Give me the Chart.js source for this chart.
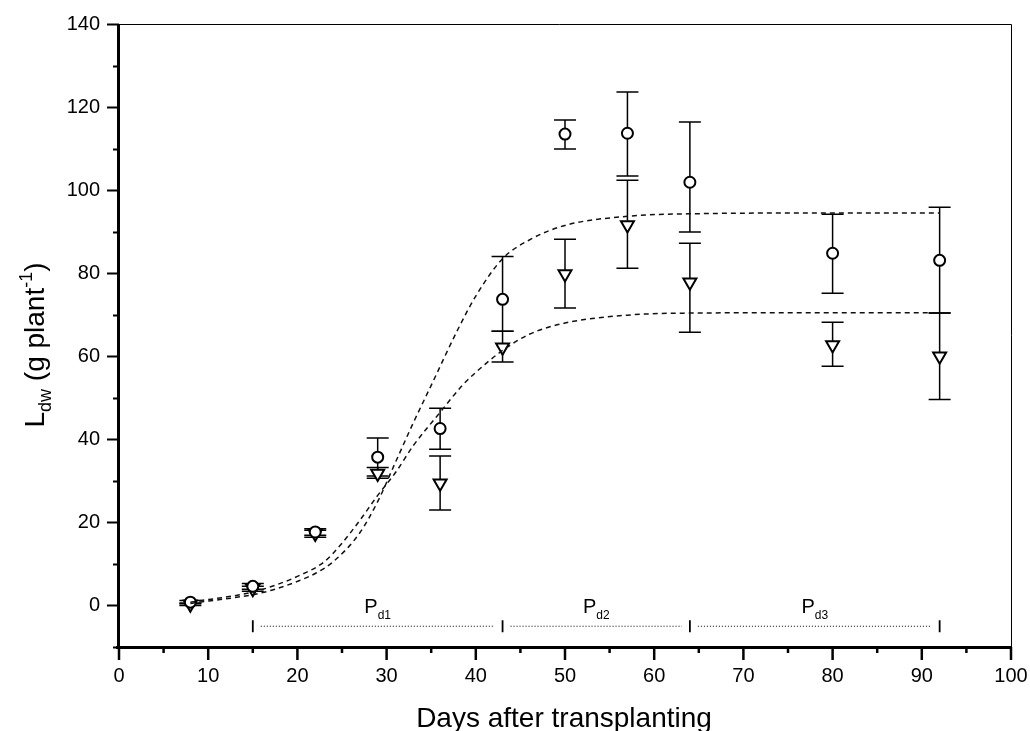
<!DOCTYPE html>
<html>
<head>
<meta charset="utf-8">
<script src="https://cdn.jsdelivr.net/npm/chart.js@4.4.1/dist/chart.umd.min.js"></script>
<style>
  html, body { margin: 0; padding: 0; background: #fff; }
  #wrap { width: 1030px; height: 731px; }
</style>
</head>
<body>
<div id="wrap"><canvas id="growth"></canvas></div>
<script>
// measured days
var days = [8, 15, 22, 29, 36, 43, 50, 57, 64, 80, 92];

// circles
var circleMean = [0.8, 4.6, 17.7, 35.7, 42.6, 73.7, 113.5, 113.7, 101.9, 84.8, 83.1];
var circleLow  = [0.4, 3.9, 16.9, 31.2, 37.6, 66.0, 109.9, 103.4, 89.9, 75.2, 70.4];
var circleHigh = [1.2, 5.3, 18.5, 40.3, 47.5, 84.0, 116.9, 123.6, 116.4, 94.2, 95.9];

// triangles
var triMean = [0.3, 4.0, 17.3, 31.8, 29.4, 62.2, 79.8, 91.6, 77.8, 62.7, 60.0];
var triLow  = [0.0, 3.4, 16.4, 30.6, 23.0, 58.6, 71.6, 81.2, 65.8, 57.6, 49.6];
var triHigh = [0.6, 4.6, 18.1, 33.2, 36.0, 66.0, 88.2, 102.4, 87.2, 68.2, 70.4];

// fitted curves
var fitUpperX = [8, 15, 17, 20, 22, 24, 27, 29, 31, 33, 35, 38, 40, 43, 46, 50, 57, 64, 80, 92];
var fitUpper  = [0.5, 2.6, 3.6, 5.8, 7.7, 10.5, 17.5, 25, 34.5, 44, 53, 66.5, 74.5, 83.5, 88, 91.5, 93.7, 94.3, 94.5, 94.5];
var fitLowerX = [8, 15, 17, 20, 23, 25, 27, 29, 31, 33, 36, 38.5, 41, 43, 46, 50, 57, 64, 80, 92];
var fitLower  = [0.8, 3.2, 4.5, 7, 10.5, 15, 20.5, 26.5, 32, 38.5, 46.5, 53, 58, 61.4, 65.3, 68, 69.9, 70.4, 70.5, 70.5];

// periods
var periodBounds = [15, 43, 64, 92];
var periodNames = ['d1', 'd2', 'd3'];
var periodLevel = -5;

var FONT = "'Liberation Sans', Arial, Helvetica, sans-serif";

function pts(xs, ys) {
  return xs.map(function(x, i) { return { x: x, y: ys[i] }; });
}

function noPad(s) {
  s.paddingLeft = 0; s.paddingRight = 0; s.paddingTop = 0; s.paddingBottom = 0;
}

var decor = {
  id: 'decor',
  beforeDatasetsDraw: function(chart) {
    var ctx = chart.ctx, xs = chart.scales.x, ys = chart.scales.y;
    ctx.save();
    ctx.strokeStyle = '#000';
    ctx.lineWidth = 1.5;
    function bars(lo, hi) {
      for (var i = 0; i < days.length; i++) {
        var px = xs.getPixelForValue(days[i]);
        var a = ys.getPixelForValue(lo[i]), b = ys.getPixelForValue(hi[i]);
        ctx.beginPath();
        ctx.moveTo(px, a); ctx.lineTo(px, b);
        ctx.moveTo(px - 11, a); ctx.lineTo(px + 11, a);
        ctx.moveTo(px - 11, b); ctx.lineTo(px + 11, b);
        ctx.stroke();
      }
    }
    bars(circleLow, circleHigh);
    bars(triLow, triHigh);

    // period dotted lines and brackets
    var py = ys.getPixelForValue(periodLevel);
    ctx.lineWidth = 1;
    ctx.setLineDash([1, 2]);
    for (var k = 0; k < periodBounds.length - 1; k++) {
      ctx.beginPath();
      ctx.moveTo(xs.getPixelForValue(periodBounds[k]) + 8, py);
      ctx.lineTo(xs.getPixelForValue(periodBounds[k + 1]) - 8, py);
      ctx.stroke();
    }
    ctx.setLineDash([]);
    ctx.lineWidth = 1.8;
    periodBounds.forEach(function(d) {
      var px = xs.getPixelForValue(d);
      ctx.beginPath();
      ctx.moveTo(px, py - 6); ctx.lineTo(px, py + 6);
      ctx.stroke();
    });

    // period labels
    ctx.fillStyle = '#000';
    ctx.textBaseline = 'alphabetic';
    ctx.textAlign = 'left';
    for (var j = 0; j < periodNames.length; j++) {
      var mid = xs.getPixelForValue((periodBounds[j] + periodBounds[j + 1]) / 2);
      ctx.font = '20px ' + FONT;
      var wP = ctx.measureText('P').width;
      ctx.font = '12px ' + FONT;
      var wS = ctx.measureText(periodNames[j]).width;
      var x0 = mid - (wP + wS) / 2;
      ctx.font = '20px ' + FONT;
      ctx.fillText('P', x0, py - 13);
      ctx.font = '12px ' + FONT;
      ctx.fillText(periodNames[j], x0 + wP, py - 7);
    }
    ctx.restore();
  },
  afterDraw: function(chart) {
    var ctx = chart.ctx, xs = chart.scales.x, ys = chart.scales.y, ca = chart.chartArea;
    ctx.save();
    ctx.strokeStyle = '#000';
    // thin top and right frame
    ctx.lineWidth = 1;
    ctx.beginPath();
    ctx.moveTo(ca.left - 12, ca.top + 0.5); ctx.lineTo(ca.right + 0.5, ca.top + 0.5);
    ctx.lineTo(ca.right + 0.5, ca.bottom);
    ctx.stroke();
    // thick left and bottom axes
    ctx.lineWidth = 3;
    ctx.beginPath();
    ctx.moveTo(ca.left - 0.5, ca.top); ctx.lineTo(ca.left - 0.5, ca.bottom + 1.5);
    ctx.moveTo(ca.left - 3, ca.bottom + 0.5); ctx.lineTo(ca.right + 1, ca.bottom + 0.5);
    ctx.stroke();
    // y ticks
    ctx.lineWidth = 2;
    ys.ticks.forEach(function(t) {
      var py = Math.round(ys.getPixelForValue(t.value)) + 0.5;
      var len = (t.value % 20 === 0 && t.value >= 0) ? 12 : 6;
      ctx.beginPath();
      ctx.moveTo(ca.left - len, py); ctx.lineTo(ca.left, py);
      ctx.stroke();
    });
    // x ticks
    ctx.lineWidth = 2.5;
    xs.ticks.forEach(function(t) {
      var px = xs.getPixelForValue(t.value);
      ctx.beginPath();
      if (t.value % 10 === 0) {
        ctx.moveTo(px, ca.bottom); ctx.lineTo(px, ca.bottom + 13);
      } else {
        ctx.moveTo(px, ca.bottom + 2); ctx.lineTo(px, ca.bottom + 6);
      }
      ctx.stroke();
    });

    // axis titles
    ctx.fillStyle = '#000';
    ctx.textBaseline = 'alphabetic';
    ctx.font = '28px ' + FONT;
    ctx.textAlign = 'center';
    ctx.fillText('Days after transplanting', 564, 727);

    var parts = [
      { t: 'L', size: 28, dy: 0 },
      { t: 'dw', size: 18, dy: 7 },
      { t: ' (g plant', size: 28, dy: 0 },
      { t: '-1', size: 18, dy: -12 },
      { t: ')', size: 28, dy: 0 }
    ];
    var total = 0;
    parts.forEach(function(p) { ctx.font = p.size + 'px ' + FONT; p.w = ctx.measureText(p.t).width; total += p.w; });
    ctx.translate(44, 345);
    ctx.rotate(-Math.PI / 2);
    ctx.textAlign = 'left';
    var x = -total / 2;
    parts.forEach(function(p) {
      ctx.font = p.size + 'px ' + FONT;
      ctx.fillText(p.t, x, p.dy);
      x += p.w;
    });
    ctx.restore();
  }
};

new Chart(document.getElementById('growth'), {
  type: 'scatter',
  data: {
    datasets: [
      {
        type: 'line',
        data: pts(fitUpperX, fitUpper),
        borderColor: '#111',
        borderWidth: 1.5,
        borderDash: [5, 4],
        pointRadius: 0,
        fill: false,
        cubicInterpolationMode: 'monotone'
      },
      {
        type: 'line',
        data: pts(fitLowerX, fitLower),
        borderColor: '#111',
        borderWidth: 1.5,
        borderDash: [5, 4],
        pointRadius: 0,
        fill: false,
        cubicInterpolationMode: 'monotone'
      },
      {
        data: pts(days, circleMean),
        pointStyle: 'circle',
        pointRadius: 5.5,
        borderWidth: 2,
        borderColor: '#000',
        backgroundColor: '#fff'
      },
      {
        data: pts(days, triMean),
        pointStyle: 'triangle',
        rotation: 180,
        pointRadius: 7.5,
        borderWidth: 2,
        borderColor: '#000',
        backgroundColor: '#fff'
      }
    ]
  },
  options: {
    responsive: true,
    maintainAspectRatio: false,
    animation: false,
    layout: { padding: { top: 24, right: 19, left: 0, bottom: 0 } },
    plugins: {
      legend: { display: false },
      tooltip: { enabled: false }
    },
    scales: {
      x: {
        type: 'linear',
        min: 0,
        max: 100,
        grid: { display: false, drawTicks: false },
        border: { display: false },
        ticks: {
          stepSize: 5,
          autoSkip: false,
          maxRotation: 0,
          padding: 17,
          color: '#000',
          font: { family: FONT, size: 20 },
          callback: function(v) { return v % 10 === 0 ? v : ''; }
        },
        afterFit: function(s) { s.height = 84; noPad(s); }
      },
      y: {
        min: -10,
        max: 140,
        grid: { display: false, drawTicks: false },
        border: { display: false },
        ticks: {
          stepSize: 10,
          autoSkip: false,
          padding: 19,
          color: '#000',
          font: { family: FONT, size: 20 },
          callback: function(v) { return (v % 20 === 0 && v >= 0) ? v : ''; }
        },
        afterFit: function(s) { s.width = 119; noPad(s); }
      }
    }
  },
  plugins: [decor]
});
</script>
</body>
</html>
